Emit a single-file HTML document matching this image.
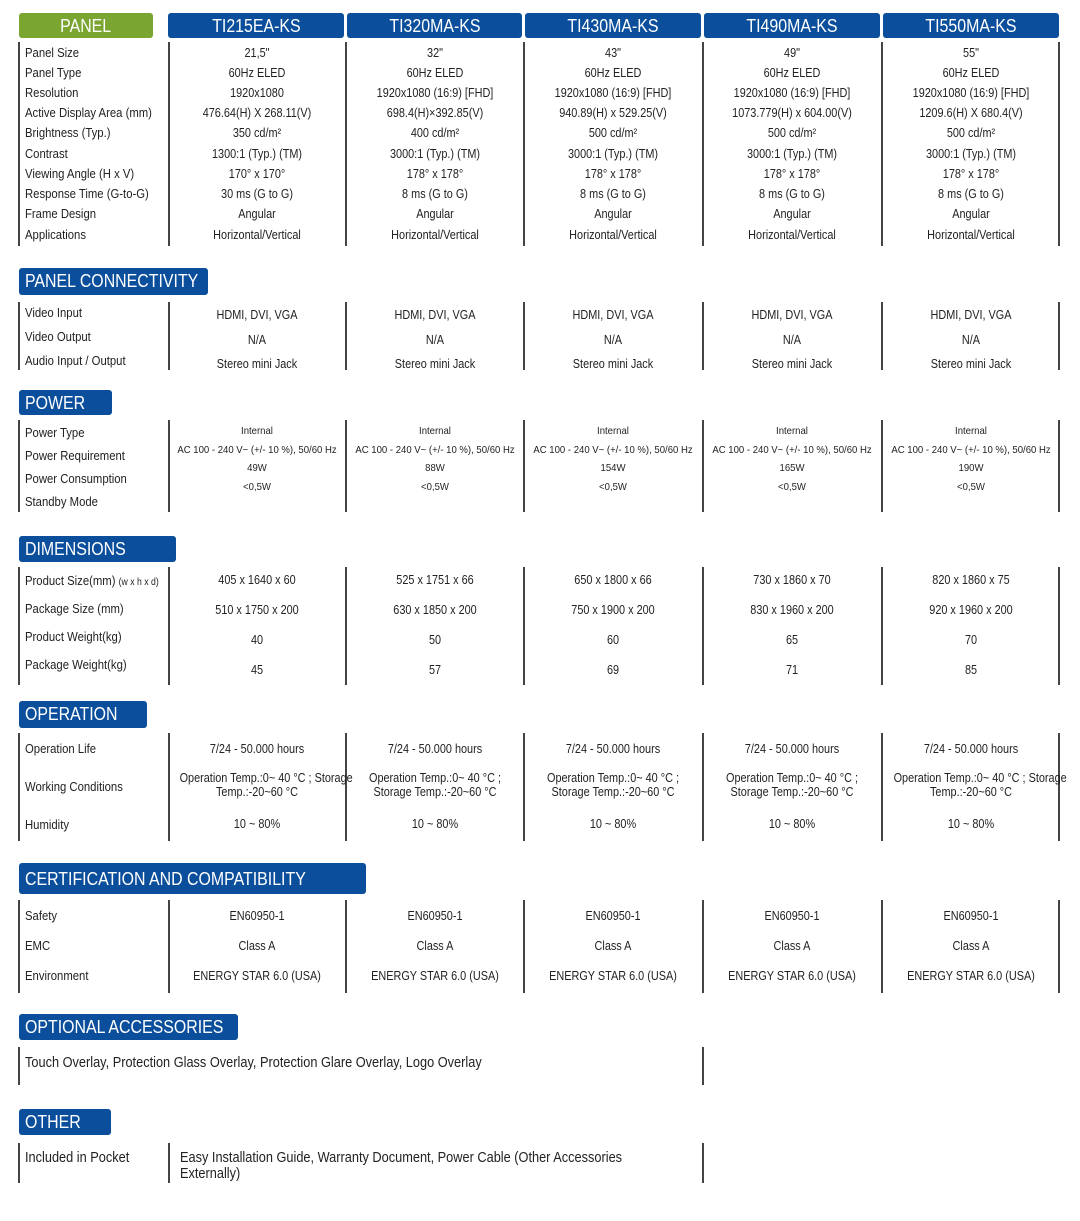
<!DOCTYPE html>
<html><head><meta charset="utf-8"><style>
body{margin:0;background:#fff;width:1080px;height:1221px;position:relative;overflow:hidden;font-family:"Liberation Sans",Arial,sans-serif;color:#222}
.t{position:absolute;white-space:nowrap;font-size:12.5px;line-height:14px;transform:scaleX(.87)}
.l{left:25px;font-size:13px;transform-origin:0 50%}
.c{width:178px;text-align:center;transform-origin:50% 50%}
.c1{left:168px}.c2{left:346px}.c3{left:524px}.c4{left:703px}.c5{left:882px}
.v{position:absolute;width:2px;background:#444}
.h{position:absolute;background:#0b4f9c;color:#fff;font-size:18.5px;line-height:26px;border-radius:3px;padding-left:6px;box-sizing:border-box;white-space:nowrap;overflow:hidden}
.h span{display:inline-block;transform:scaleX(.86);transform-origin:0 50%}
.hc{text-align:center;padding-left:0}
.hc span{transform-origin:50% 50%}
.s{font-size:10.5px;transform:scaleX(.91)}
.big{font-size:14.5px;line-height:16px;transform:scaleX(.88)}
</style></head><body>
<div class="h hc" style="left:19px;top:13px;width:134px;height:25px;background:#7aa531"><span>PANEL</span></div>
<div class="h hc" style="left:168px;top:13px;width:176px;height:25px"><span>TI215EA-KS</span></div>
<div class="h hc" style="left:347px;top:13px;width:175px;height:25px"><span>TI320MA-KS</span></div>
<div class="h hc" style="left:525px;top:13px;width:176px;height:25px"><span>TI430MA-KS</span></div>
<div class="h hc" style="left:704px;top:13px;width:176px;height:25px"><span>TI490MA-KS</span></div>
<div class="h hc" style="left:883px;top:13px;width:176px;height:25px"><span>TI550MA-KS</span></div>

<div class="v" style="left:18px;top:42px;height:204px"></div>
<div class="v" style="left:168px;top:42px;height:204px"></div>
<div class="v" style="left:345px;top:42px;height:204px"></div>
<div class="v" style="left:523px;top:42px;height:204px"></div>
<div class="v" style="left:702px;top:42px;height:204px"></div>
<div class="v" style="left:881px;top:42px;height:204px"></div>
<div class="v" style="left:1058px;top:42px;height:204px"></div>

<div class="t l" style="top:46px">Panel Size</div>
<div class="t l" style="top:66px">Panel Type</div>
<div class="t l" style="top:86px">Resolution</div>
<div class="t l" style="top:106px">Active Display Area (mm)</div>
<div class="t l" style="top:126px">Brightness (Typ.)</div>
<div class="t l" style="top:147px">Contrast</div>
<div class="t l" style="top:167px">Viewing Angle (H x V)</div>
<div class="t l" style="top:187px">Response Time (G-to-G)</div>
<div class="t l" style="top:207px">Frame Design</div>
<div class="t l" style="top:228px">Applications</div>

<div class="t c c1" style="top:46px">21,5"</div><div class="t c c2" style="top:46px">32"</div><div class="t c c3" style="top:46px">43"</div><div class="t c c4" style="top:46px">49"</div><div class="t c c5" style="top:46px">55"</div>
<div class="t c c1" style="top:66px">60Hz ELED</div><div class="t c c2" style="top:66px">60Hz ELED</div><div class="t c c3" style="top:66px">60Hz ELED</div><div class="t c c4" style="top:66px">60Hz ELED</div><div class="t c c5" style="top:66px">60Hz ELED</div>
<div class="t c c1" style="top:86px">1920x1080</div><div class="t c c2" style="top:86px">1920x1080 (16:9) [FHD]</div><div class="t c c3" style="top:86px">1920x1080 (16:9) [FHD]</div><div class="t c c4" style="top:86px">1920x1080 (16:9) [FHD]</div><div class="t c c5" style="top:86px">1920x1080 (16:9) [FHD]</div>
<div class="t c c1" style="top:106px">476.64(H) X 268.11(V)</div><div class="t c c2" style="top:106px">698.4(H)×392.85(V)</div><div class="t c c3" style="top:106px">940.89(H) x 529.25(V)</div><div class="t c c4" style="top:106px">1073.779(H) x 604.00(V)</div><div class="t c c5" style="top:106px">1209.6(H) X 680.4(V)</div>
<div class="t c c1" style="top:126px">350 cd/m²</div><div class="t c c2" style="top:126px">400 cd/m²</div><div class="t c c3" style="top:126px">500 cd/m²</div><div class="t c c4" style="top:126px">500 cd/m²</div><div class="t c c5" style="top:126px">500 cd/m²</div>
<div class="t c c1" style="top:147px">1300:1 (Typ.) (TM)</div><div class="t c c2" style="top:147px">3000:1 (Typ.) (TM)</div><div class="t c c3" style="top:147px">3000:1 (Typ.) (TM)</div><div class="t c c4" style="top:147px">3000:1 (Typ.) (TM)</div><div class="t c c5" style="top:147px">3000:1 (Typ.) (TM)</div>
<div class="t c c1" style="top:167px">170° x 170°</div><div class="t c c2" style="top:167px">178° x 178°</div><div class="t c c3" style="top:167px">178° x 178°</div><div class="t c c4" style="top:167px">178° x 178°</div><div class="t c c5" style="top:167px">178° x 178°</div>
<div class="t c c1" style="top:187px">30 ms (G to G)</div><div class="t c c2" style="top:187px">8 ms (G to G)</div><div class="t c c3" style="top:187px">8 ms (G to G)</div><div class="t c c4" style="top:187px">8 ms (G to G)</div><div class="t c c5" style="top:187px">8 ms (G to G)</div>
<div class="t c c1" style="top:207px">Angular</div><div class="t c c2" style="top:207px">Angular</div><div class="t c c3" style="top:207px">Angular</div><div class="t c c4" style="top:207px">Angular</div><div class="t c c5" style="top:207px">Angular</div>
<div class="t c c1" style="top:228px">Horizontal/Vertical</div><div class="t c c2" style="top:228px">Horizontal/Vertical</div><div class="t c c3" style="top:228px">Horizontal/Vertical</div><div class="t c c4" style="top:228px">Horizontal/Vertical</div><div class="t c c5" style="top:228px">Horizontal/Vertical</div>

<div class="h" style="left:19px;top:268px;width:189px;height:27px"><span>PANEL CONNECTIVITY</span></div>
<div class="v" style="left:18px;top:302px;height:68px"></div>
<div class="v" style="left:168px;top:302px;height:68px"></div>
<div class="v" style="left:345px;top:302px;height:68px"></div>
<div class="v" style="left:523px;top:302px;height:68px"></div>
<div class="v" style="left:702px;top:302px;height:68px"></div>
<div class="v" style="left:881px;top:302px;height:68px"></div>
<div class="v" style="left:1058px;top:302px;height:68px"></div>
<div class="t l" style="top:306px">Video Input</div>
<div class="t l" style="top:330px">Video Output</div>
<div class="t l" style="top:354px">Audio Input / Output</div>
<div class="t c c1" style="top:308px">HDMI, DVI, VGA</div><div class="t c c2" style="top:308px">HDMI, DVI, VGA</div><div class="t c c3" style="top:308px">HDMI, DVI, VGA</div><div class="t c c4" style="top:308px">HDMI, DVI, VGA</div><div class="t c c5" style="top:308px">HDMI, DVI, VGA</div>
<div class="t c c1" style="top:333px">N/A</div><div class="t c c2" style="top:333px">N/A</div><div class="t c c3" style="top:333px">N/A</div><div class="t c c4" style="top:333px">N/A</div><div class="t c c5" style="top:333px">N/A</div>
<div class="t c c1" style="top:357px">Stereo mini Jack</div><div class="t c c2" style="top:357px">Stereo mini Jack</div><div class="t c c3" style="top:357px">Stereo mini Jack</div><div class="t c c4" style="top:357px">Stereo mini Jack</div><div class="t c c5" style="top:357px">Stereo mini Jack</div>

<div class="h" style="left:19px;top:390px;width:93px;height:25px"><span>POWER</span></div>
<div class="v" style="left:18px;top:420px;height:92px"></div>
<div class="v" style="left:168px;top:420px;height:92px"></div>
<div class="v" style="left:345px;top:420px;height:92px"></div>
<div class="v" style="left:523px;top:420px;height:92px"></div>
<div class="v" style="left:702px;top:420px;height:92px"></div>
<div class="v" style="left:881px;top:420px;height:92px"></div>
<div class="v" style="left:1058px;top:420px;height:92px"></div>
<div class="t l" style="top:426px">Power Type</div>
<div class="t l" style="top:449px">Power Requirement</div>
<div class="t l" style="top:472px">Power Consumption</div>
<div class="t l" style="top:495px">Standby Mode</div>
<div class="t c c1 s" style="top:424px">Internal</div><div class="t c c2 s" style="top:424px">Internal</div><div class="t c c3 s" style="top:424px">Internal</div><div class="t c c4 s" style="top:424px">Internal</div><div class="t c c5 s" style="top:424px">Internal</div>
<div class="t c c1 s" style="top:443px">AC 100 - 240 V~ (+/- 10 %), 50/60 Hz</div><div class="t c c2 s" style="top:443px">AC 100 - 240 V~ (+/- 10 %), 50/60 Hz</div><div class="t c c3 s" style="top:443px">AC 100 - 240 V~ (+/- 10 %), 50/60 Hz</div><div class="t c c4 s" style="top:443px">AC 100 - 240 V~ (+/- 10 %), 50/60 Hz</div><div class="t c c5 s" style="top:443px">AC 100 - 240 V~ (+/- 10 %), 50/60 Hz</div>
<div class="t c c1 s" style="top:461px">49W</div><div class="t c c2 s" style="top:461px">88W</div><div class="t c c3 s" style="top:461px">154W</div><div class="t c c4 s" style="top:461px">165W</div><div class="t c c5 s" style="top:461px">190W</div>
<div class="t c c1 s" style="top:480px">&lt;0,5W</div><div class="t c c2 s" style="top:480px">&lt;0,5W</div><div class="t c c3 s" style="top:480px">&lt;0,5W</div><div class="t c c4 s" style="top:480px">&lt;0,5W</div><div class="t c c5 s" style="top:480px">&lt;0,5W</div>

<div class="h" style="left:19px;top:536px;width:157px;height:26px"><span>DIMENSIONS</span></div>
<div class="v" style="left:18px;top:567px;height:118px"></div>
<div class="v" style="left:168px;top:567px;height:118px"></div>
<div class="v" style="left:345px;top:567px;height:118px"></div>
<div class="v" style="left:523px;top:567px;height:118px"></div>
<div class="v" style="left:702px;top:567px;height:118px"></div>
<div class="v" style="left:881px;top:567px;height:118px"></div>
<div class="v" style="left:1058px;top:567px;height:118px"></div>
<div class="t l" style="top:574px">Product Size(mm) <span style="font-size:10px">(w x h x d)</span></div>
<div class="t l" style="top:602px">Package Size (mm)</div>
<div class="t l" style="top:630px">Product Weight(kg)</div>
<div class="t l" style="top:658px">Package Weight(kg)</div>
<div class="t c c1" style="top:573px">405 x 1640 x 60</div><div class="t c c2" style="top:573px">525 x 1751 x 66</div><div class="t c c3" style="top:573px">650 x 1800 x 66</div><div class="t c c4" style="top:573px">730 x 1860 x 70</div><div class="t c c5" style="top:573px">820 x 1860 x 75</div>
<div class="t c c1" style="top:603px">510 x 1750 x 200</div><div class="t c c2" style="top:603px">630 x 1850 x 200</div><div class="t c c3" style="top:603px">750 x 1900 x 200</div><div class="t c c4" style="top:603px">830 x 1960 x 200</div><div class="t c c5" style="top:603px">920 x 1960 x 200</div>
<div class="t c c1" style="top:633px">40</div><div class="t c c2" style="top:633px">50</div><div class="t c c3" style="top:633px">60</div><div class="t c c4" style="top:633px">65</div><div class="t c c5" style="top:633px">70</div>
<div class="t c c1" style="top:663px">45</div><div class="t c c2" style="top:663px">57</div><div class="t c c3" style="top:663px">69</div><div class="t c c4" style="top:663px">71</div><div class="t c c5" style="top:663px">85</div>

<div class="h" style="left:19px;top:701px;width:128px;height:27px"><span>OPERATION</span></div>
<div class="v" style="left:18px;top:733px;height:108px"></div>
<div class="v" style="left:168px;top:733px;height:108px"></div>
<div class="v" style="left:345px;top:733px;height:108px"></div>
<div class="v" style="left:523px;top:733px;height:108px"></div>
<div class="v" style="left:702px;top:733px;height:108px"></div>
<div class="v" style="left:881px;top:733px;height:108px"></div>
<div class="v" style="left:1058px;top:733px;height:108px"></div>
<div class="t l" style="top:742px">Operation Life</div>
<div class="t l" style="top:780px">Working Conditions</div>
<div class="t l" style="top:818px">Humidity</div>
<div class="t c c1" style="top:742px">7/24 - 50.000 hours</div><div class="t c c2" style="top:742px">7/24 - 50.000 hours</div><div class="t c c3" style="top:742px">7/24 - 50.000 hours</div><div class="t c c4" style="top:742px">7/24 - 50.000 hours</div><div class="t c c5" style="top:742px">7/24 - 50.000 hours</div>
<div class="t c c1" style="top:771px">Operation Temp.:0~ 40 °C ; Storage<br>Temp.:-20~60 °C</div>
<div class="t c c2" style="top:771px">Operation Temp.:0~ 40 °C ;<br>Storage Temp.:-20~60 °C</div>
<div class="t c c3" style="top:771px">Operation Temp.:0~ 40 °C ;<br>Storage Temp.:-20~60 °C</div>
<div class="t c c4" style="top:771px">Operation Temp.:0~ 40 °C ;<br>Storage Temp.:-20~60 °C</div>
<div class="t c c5" style="top:771px">Operation Temp.:0~ 40 °C ; Storage<br>Temp.:-20~60 °C</div>
<div class="t c c1" style="top:817px">10 ~ 80%</div><div class="t c c2" style="top:817px">10 ~ 80%</div><div class="t c c3" style="top:817px">10 ~ 80%</div><div class="t c c4" style="top:817px">10 ~ 80%</div><div class="t c c5" style="top:817px">10 ~ 80%</div>

<div class="h" style="left:19px;top:863px;width:347px;height:31px;line-height:31px"><span>CERTIFICATION AND COMPATIBILITY</span></div>
<div class="v" style="left:18px;top:900px;height:93px"></div>
<div class="v" style="left:168px;top:900px;height:93px"></div>
<div class="v" style="left:345px;top:900px;height:93px"></div>
<div class="v" style="left:523px;top:900px;height:93px"></div>
<div class="v" style="left:702px;top:900px;height:93px"></div>
<div class="v" style="left:881px;top:900px;height:93px"></div>
<div class="v" style="left:1058px;top:900px;height:93px"></div>
<div class="t l" style="top:909px">Safety</div>
<div class="t l" style="top:939px">EMC</div>
<div class="t l" style="top:969px">Environment</div>
<div class="t c c1" style="top:909px">EN60950-1</div><div class="t c c2" style="top:909px">EN60950-1</div><div class="t c c3" style="top:909px">EN60950-1</div><div class="t c c4" style="top:909px">EN60950-1</div><div class="t c c5" style="top:909px">EN60950-1</div>
<div class="t c c1" style="top:939px">Class A</div><div class="t c c2" style="top:939px">Class A</div><div class="t c c3" style="top:939px">Class A</div><div class="t c c4" style="top:939px">Class A</div><div class="t c c5" style="top:939px">Class A</div>
<div class="t c c1" style="top:969px">ENERGY STAR 6.0 (USA)</div><div class="t c c2" style="top:969px">ENERGY STAR 6.0 (USA)</div><div class="t c c3" style="top:969px">ENERGY STAR 6.0 (USA)</div><div class="t c c4" style="top:969px">ENERGY STAR 6.0 (USA)</div><div class="t c c5" style="top:969px">ENERGY STAR 6.0 (USA)</div>

<div class="h" style="left:19px;top:1014px;width:219px;height:26px"><span>OPTIONAL ACCESSORIES</span></div>
<div class="v" style="left:18px;top:1047px;height:38px"></div>
<div class="v" style="left:702px;top:1047px;height:38px"></div>
<div class="t l big" style="top:1055px">Touch Overlay, Protection Glass Overlay, Protection Glare Overlay, Logo Overlay</div>

<div class="h" style="left:19px;top:1109px;width:92px;height:26px"><span>OTHER</span></div>
<div class="v" style="left:18px;top:1143px;height:40px"></div>
<div class="v" style="left:168px;top:1143px;height:40px"></div>
<div class="v" style="left:702px;top:1143px;height:40px"></div>
<div class="t l big" style="top:1150px">Included in Pocket</div>
<div class="t l big" style="left:180px;top:1150px">Easy Installation Guide, Warranty Document, Power Cable (Other Accessories<br>Externally)</div>
</body></html>
